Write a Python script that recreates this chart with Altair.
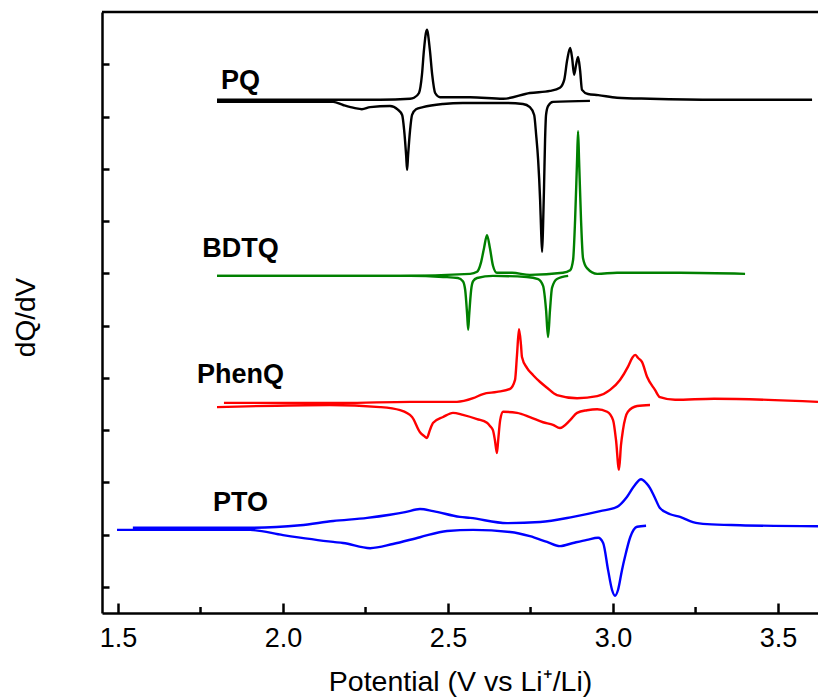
import altair as alt
import pandas as pd

# ---- dQ/dV curves (potential in V, dQ/dV in stacked arbitrary units) ----
pq_charge_v = [1.800, 2.052, 2.294, 2.385, 2.397, 2.412, 2.421, 2.427, 2.436, 2.445, 2.452, 2.461,
               2.476, 2.567, 2.667, 2.748, 2.809, 2.839, 2.852, 2.861, 2.870, 2.876, 2.882, 2.888,
               2.894, 2.900, 2.906, 2.924, 2.955, 3.012, 3.112, 3.315, 3.603]
pq_charge_y = [9.82, 9.82, 9.82, 9.84, 9.86, 9.95, 10.30, 10.77, 11.16, 10.77, 10.30, 9.95,
               9.87, 9.87, 9.84, 9.95, 9.99, 10.05, 10.20, 10.58, 10.81, 10.62, 10.30, 10.49,
               10.64, 10.39, 10.01, 9.93, 9.91, 9.86, 9.84, 9.82, 9.82]

pq_discharge_v = [1.800, 2.152, 2.182, 2.218, 2.239, 2.264, 2.324, 2.348, 2.361, 2.367, 2.373,
                  2.376, 2.379, 2.385, 2.391, 2.403, 2.424, 2.485, 2.545, 2.667, 2.727, 2.748,
                  2.761, 2.767, 2.773, 2.779, 2.782, 2.785, 2.788, 2.791, 2.794, 2.797, 2.803,
                  2.818, 2.930]
pq_discharge_y = [9.78, 9.78, 9.72, 9.66, 9.64, 9.68, 9.70, 9.63, 9.53, 9.24, 8.76,
                  8.48, 8.76, 9.24, 9.53, 9.64, 9.68, 9.74, 9.76, 9.76, 9.74, 9.68,
                  9.53, 9.15, 8.67, 7.90, 7.33, 6.91, 7.42, 8.19, 9.05, 9.53, 9.70,
                  9.78, 9.80]

bdtq_charge_v = [1.800, 2.355, 2.567, 2.588, 2.600, 2.609, 2.618, 2.627, 2.636, 2.648, 2.694,
                 2.748, 2.848, 2.870, 2.879, 2.885, 2.891, 2.894, 2.897, 2.903, 2.909, 2.921,
                 2.952, 3.012, 3.203, 3.400]
bdtq_charge_y = [6.45, 6.45, 6.49, 6.53, 6.71, 6.98, 7.23, 6.98, 6.65, 6.51, 6.51,
                 6.47, 6.51, 6.56, 6.76, 7.52, 8.67, 9.22, 8.67, 7.52, 6.79, 6.60,
                 6.49, 6.51, 6.51, 6.49]

bdtq_discharge_v = [1.800, 2.385, 2.485, 2.530, 2.545, 2.552, 2.558, 2.561, 2.564, 2.570, 2.576,
                    2.588, 2.636, 2.739, 2.773, 2.788, 2.797, 2.803, 2.809, 2.815, 2.830, 2.864]
bdtq_discharge_y = [6.45, 6.45, 6.43, 6.41, 6.35, 6.18, 5.70, 5.42, 5.70, 6.18, 6.35,
                    6.41, 6.45, 6.43, 6.39, 6.26, 5.80, 5.28, 5.80, 6.22, 6.39, 6.45]

phenq_charge_v = [1.821, 2.182, 2.385, 2.527, 2.576, 2.606, 2.648, 2.688, 2.703, 2.709, 2.715,
                  2.721, 2.724, 2.739, 2.758, 2.779, 2.800, 2.830, 2.891, 2.952, 2.991, 3.021,
                  3.045, 3.058, 3.067, 3.076, 3.088, 3.103, 3.127, 3.142, 3.188, 3.306, 3.621]
phenq_charge_y = [4.02, 4.02, 4.04, 4.04, 4.11, 4.19, 4.23, 4.29, 4.46, 4.94, 5.43,
                  5.13, 4.90, 4.69, 4.55, 4.42, 4.31, 4.17, 4.11, 4.15, 4.27, 4.46,
                  4.71, 4.88, 4.94, 4.88, 4.80, 4.52, 4.27, 4.13, 4.08, 4.10, 4.04]

phenq_discharge_v = [1.800, 2.142, 2.294, 2.355, 2.391, 2.415, 2.427, 2.436, 2.445, 2.455, 2.485,
                     2.515, 2.545, 2.588, 2.618, 2.627, 2.636, 2.642, 2.648, 2.652, 2.658, 2.667,
                     2.709, 2.748, 2.788, 2.818, 2.839, 2.870, 2.891, 2.921, 2.952, 2.982, 3.000,
                     3.009, 3.018, 3.024, 3.030, 3.045, 3.073, 3.112]
phenq_discharge_y = [3.94, 3.98, 3.94, 3.88, 3.75, 3.46, 3.39, 3.35, 3.50, 3.64, 3.75,
                     3.83, 3.79, 3.71, 3.64, 3.58, 3.50, 3.31, 3.06, 3.31, 3.69, 3.85,
                     3.83, 3.75, 3.65, 3.60, 3.54, 3.69, 3.83, 3.88, 3.90, 3.85, 3.69,
                     3.31, 2.74, 3.21, 3.50, 3.85, 3.96, 3.98]

pto_charge_v = [1.545, 1.900, 2.052, 2.152, 2.255, 2.324, 2.370, 2.415, 2.455, 2.536, 2.567,
                2.679, 2.779, 2.879, 2.961, 3.012, 3.042, 3.064, 3.085, 3.100, 3.112, 3.127,
                3.142, 3.173, 3.203, 3.242, 3.285, 3.385, 3.621]
pto_charge_y = [1.63, 1.63, 1.68, 1.76, 1.82, 1.88, 1.93, 1.99, 1.95, 1.84, 1.82,
                1.72, 1.74, 1.84, 1.95, 2.03, 2.22, 2.43, 2.56, 2.49, 2.39, 2.20,
                2.01, 1.89, 1.84, 1.74, 1.70, 1.68, 1.66]

pto_discharge_v = [1.497, 1.900, 2.000, 2.152, 2.182, 2.264, 2.333, 2.415, 2.497, 2.576, 2.688,
                   2.748, 2.800, 2.839, 2.879, 2.921, 2.955, 2.970, 2.985, 2.997, 3.006, 3.015,
                   3.027, 3.036, 3.052, 3.073, 3.100]
pto_discharge_y = [1.59, 1.59, 1.49, 1.36, 1.34, 1.24, 1.32, 1.45, 1.57, 1.59, 1.55,
                   1.47, 1.36, 1.28, 1.34, 1.40, 1.44, 1.34, 0.82, 0.44, 0.33, 0.44,
                   0.82, 1.07, 1.45, 1.65, 1.67]

compounds = ["PQ", "BDTQ", "PhenQ", "PTO"]
colors = ["#000000", "#008000", "#ff0000", "#0000ff"]

label_v = [1.812, 1.755, 1.739, 1.788]
label_y = [10.03, 6.81, 4.40, 1.95]

x_major = [1.5, 2.0, 2.5, 3.0, 3.5]
x_minor = [1.75, 2.25, 2.75, 3.25]
y_ticks = [0.5, 1.5, 2.5, 3.5, 4.5, 5.5, 6.5, 7.5, 8.5, 9.5, 10.5]

series = [
    ("PQ", "charge", pq_charge_v, pq_charge_y),
    ("PQ", "discharge", pq_discharge_v, pq_discharge_y),
    ("BDTQ", "charge", bdtq_charge_v, bdtq_charge_y),
    ("BDTQ", "discharge", bdtq_discharge_v, bdtq_discharge_y),
    ("PhenQ", "charge", phenq_charge_v, phenq_charge_y),
    ("PhenQ", "discharge", phenq_discharge_v, phenq_discharge_y),
    ("PTO", "charge", pto_charge_v, pto_charge_y),
    ("PTO", "discharge", pto_discharge_v, pto_discharge_y),
]
rows = []
for comp, step, vs, ys in series:
    for v, y in zip(vs, ys):
        rows.append({"compound": comp, "curve": f"{comp} {step}", "V": v, "dQdV": y})
curves = pd.DataFrame(rows)
labels = pd.DataFrame({"name": compounds, "V": label_v, "dQdV": label_y})
minor = pd.DataFrame({"V": x_minor})

FONT = "Liberation Sans, Arial, Helvetica, sans-serif"
W, H = 716, 601

x_scale = alt.Scale(domain=[1.4515, 3.621], nice=False, zero=False)
y_scale = alt.Scale(domain=[0, 11.5], nice=False, zero=False)

x_axis = alt.Axis(
    values=x_major, format=".1f", grid=False,
    domainColor="black", domainWidth=2.5,
    tickColor="black", tickWidth=2.5, tickSize={"expr": "-10"},
    labelFont=FONT, labelFontSize=27, labelColor="black",
    labelBaseline="alphabetic", labelPadding=43, labelFlush=False,
    title="Potential (V vs Li\u207a/Li)", titleFont=FONT, titleFontSize=28.5,
    titleFontWeight="normal", titleColor="black",
    titleBaseline="alphabetic", titleY=77,
)
y_axis = alt.Axis(
    values=y_ticks, labels=False, grid=False,
    domainColor="black", domainWidth=2.5,
    tickColor="black", tickWidth=2.5, tickSize={"expr": "-7"},
    title="dQ/dV", titleFont=FONT, titleFontSize=28, titleFontWeight="normal",
    titleColor="black", titleAngle=-90, titleAlign="center",
    titleBaseline="alphabetic", titleX=-68, titleY=305,
)

lines = alt.Chart(curves).mark_line(strokeWidth=2.4, interpolate="monotone", clip=True).encode(
    x=alt.X("V:Q", scale=x_scale, axis=x_axis),
    y=alt.Y("dQdV:Q", scale=y_scale, axis=y_axis),
    color=alt.Color("compound:N", scale=alt.Scale(domain=compounds, range=colors), legend=None),
    detail="curve:N",
)

names = alt.Chart(labels).mark_text(
    align="left", baseline="alphabetic", font=FONT, fontSize=27,
    fontWeight="bold", color="black",
).encode(x=alt.X("V:Q", scale=x_scale), y=alt.Y("dQdV:Q", scale=y_scale), text="name:N")

minor_ticks = alt.Chart(minor).mark_rule(color="black", strokeWidth=2.5).encode(
    x=alt.X("V:Q", scale=x_scale), y=alt.value(H), y2=alt.value(H - 6)
)

top_frame = alt.Chart(pd.DataFrame({"k": [0]})).mark_rule(color="black", strokeWidth=2.5).encode(
    x=alt.value(0), x2=alt.value(W), y=alt.value(0)
)

chart = alt.layer(lines, names, minor_ticks, top_frame).properties(
    width=W, height=H,
    autosize=alt.AutoSizeParams(type="none"),
    padding={"left": 102, "top": 12, "right": 0, "bottom": 84},
    background="white",
).configure_view(stroke=None)

chart.save("out.html", embed_options={"renderer": "svg", "actions": False})
